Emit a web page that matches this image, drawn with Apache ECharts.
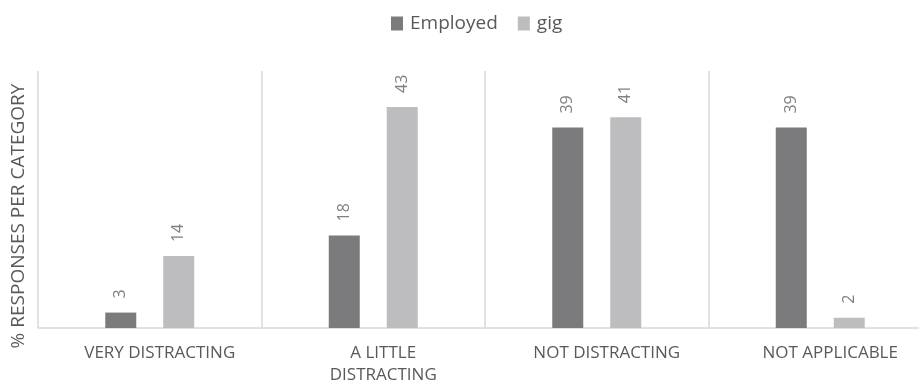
<!DOCTYPE html>
<html><head><meta charset="utf-8">
<script src="https://cdn.jsdelivr.net/npm/echarts@6/dist/echarts.min.js"></script>
<style>html,body{margin:0;padding:0;background:#fff}#c{width:919px;height:385px}</style>
</head><body><div id="c"></div>
<script>
const categories = ["VERY DISTRACTING", "A LITTLE\nDISTRACTING", "NOT DISTRACTING", "NOT APPLICABLE"];
const employed = [3, 18, 39, 39];
const gig = [14, 43, 41, 2];
const seriesNames = ["Employed", "gig"];
const yAxisTitle = "% RESPONSES PER CATEGORY";

const font = "Open Sans";
const chart = echarts.init(document.getElementById('c'));
const lbl = {show:true, position:'top', rotate:90, align:'left', verticalAlign:'middle', distance:14,
  color:'#808080', fontSize:16, fontFamily:font};
chart.setOption({
  animation:false,
  legend:{top:9, left:386, icon:'rect', itemWidth:12, itemHeight:14, itemGap:20,
    textStyle:{color:'#595959', fontSize:19, fontFamily:font, padding:[0,0,0,2]}, data:seriesNames},
  grid:{left:38, top:71, height:257, width:894, containLabel:false, outerBoundsMode:'none'},
  xAxis:{type:'category', data:categories,
    axisLine:{lineStyle:{color:'#d9d9d9', width:1.5}}, axisTick:{show:false},
    splitLine:{show:true, interval:0, lineStyle:{color:'#d9d9d9', width:1.5}},
    axisLabel:{color:'#595959', fontSize:17, fontFamily:font, margin:14, lineHeight:22, interval:0,
      padding:[0,0,0,20]}},
  yAxis:{type:'value', min:0, max:50, interval:10, name:yAxisTitle, nameLocation:'middle', nameGap:10,
    nameTextStyle:{color:'#595959', fontSize:19, fontFamily:font, padding:[0,33,0,0]},
    axisLabel:{show:false}, splitLine:{show:false}, axisLine:{show:false}, axisTick:{show:false}},
  series:[
    {name:seriesNames[0], type:'bar', data:employed, barWidth:31, barGap:'87%', itemStyle:{color:'#7b7b7e'}, label:lbl},
    {name:seriesNames[1], type:'bar', data:gig, barWidth:31, itemStyle:{color:'#bdbdc0'}, label:lbl}
  ]
});
</script></body></html>
